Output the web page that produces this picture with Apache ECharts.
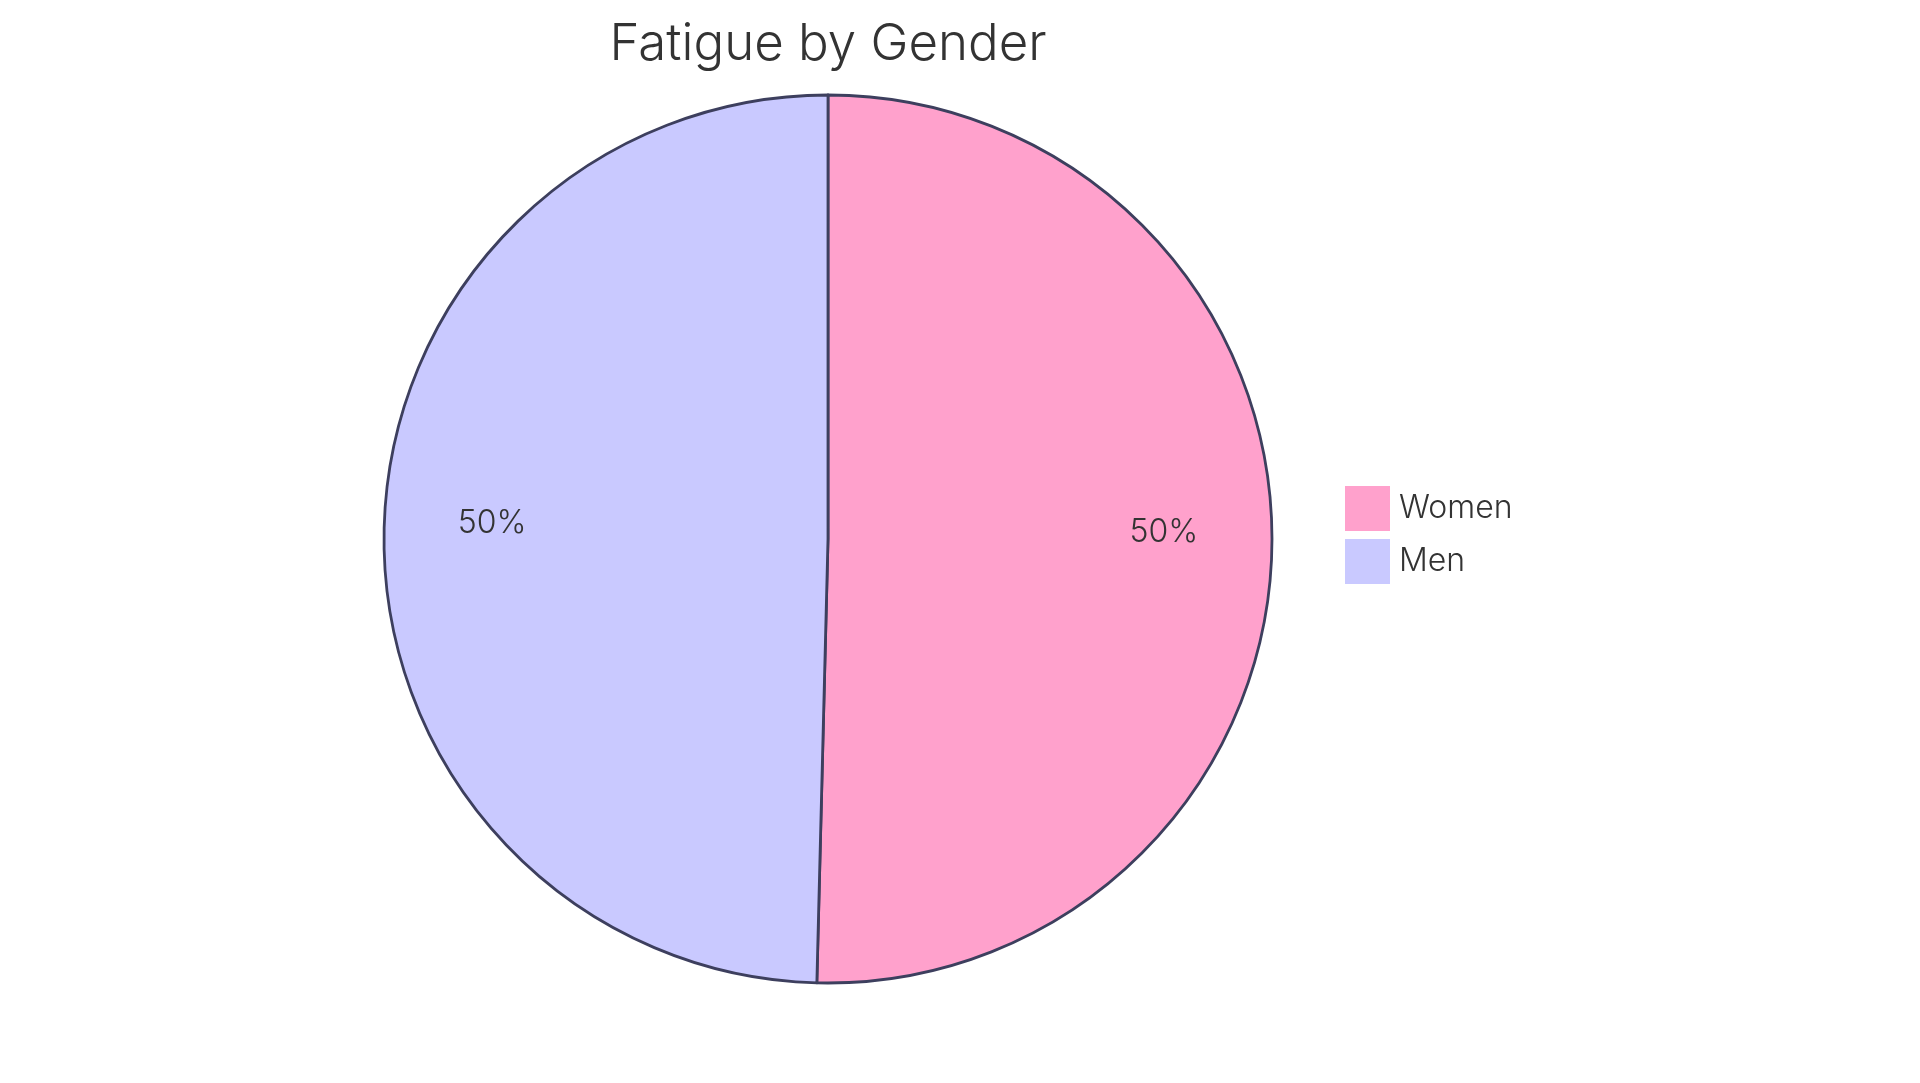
<!DOCTYPE html>
<html>
<head>
<meta charset="utf-8">
<script src="https://cdn.jsdelivr.net/npm/echarts@6/dist/echarts.min.js"></script>
<style>
html,body{margin:0;padding:0;background:#fff;}
#chart{width:1920px;height:1083px;}
</style>
</head>
<body>
<div id="chart"></div>
<script>
const titleText = 'Fatigue by Gender';
const categories = ['Women', 'Men'];
const values = [50.4, 49.6];
const colors = ['#FFA1CC', '#C9C9FF'];

const FONT = 'Inter, "Noto Sans", sans-serif';
const data = categories.map((c, i) => ({ name: c, value: values[i], itemStyle: { color: colors[i] } }));
const labelData = categories.map((c, i) => ({ name: c, value: values[i] }));

const chart = echarts.init(document.getElementById('chart'), null, { renderer: 'canvas' });
chart.setOption({
  animation: false,
  backgroundColor: '#ffffff',
  title: {
    text: titleText,
    left: 828,
    textAlign: 'center',
    top: 19,
    padding: 0,
    textStyle: { fontFamily: FONT, fontSize: 51, fontWeight: 300, color: '#333333' }
  },
  legend: {
    orient: 'vertical',
    left: 1345,
    top: 486,
    padding: 0,
    itemWidth: 45,
    itemHeight: 45,
    itemGap: 8,
    icon: 'rect',
    data: categories,
    itemStyle: { borderWidth: 0 },
    textStyle: { fontFamily: FONT, fontSize: 32, fontWeight: 300, color: '#333333', padding: [5, 0, 0, 4] }
  },
  series: [
    {
      type: 'pie',
      center: [828, 539],
      radius: [0, 444],
      startAngle: 90,
      clockwise: true,
      avoidLabelOverlap: false,
      silent: true,
      itemStyle: { borderColor: '#3d3f5e', borderWidth: 2.8 },
      label: { show: false },
      labelLine: { show: false },
      emphasis: { disabled: true },
      data: data
    },
    {
      type: 'pie',
      center: [828, 539],
      radius: [222, 444],
      startAngle: 90,
      clockwise: true,
      avoidLabelOverlap: false,
      silent: true,
      itemStyle: { color: 'rgba(0,0,0,0)', borderWidth: 0 },
      label: {
        show: true,
        position: 'inside',
        fontFamily: FONT,
        fontSize: 32,
        fontWeight: 300,
        color: '#333333',
        offset: [0, -11],
        formatter: p => Math.round(p.percent) + '%'
      },
      labelLine: { show: false },
      emphasis: { disabled: true },
      data: labelData
    }
  ]
});
</script>
</body>
</html>
